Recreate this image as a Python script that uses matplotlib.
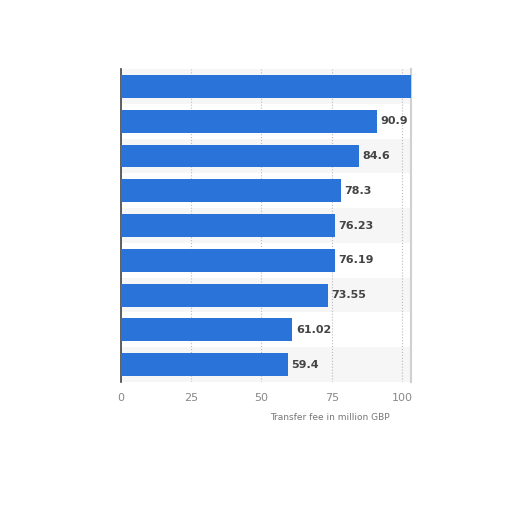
import matplotlib.pyplot as plt
import numpy as np

# values read top to bottom; first bar runs past the axis end
values = [103.5, 90.9, 84.6, 78.3, 76.23, 76.19, 73.55, 61.02, 59.4]
value_labels = ["", "90.9", "84.6", "78.3", "76.23", "76.19", "73.55", "61.02", "59.4"]
x_ticks = [0, 25, 50, 75, 100]

BAR_COLOR = "#2a73d9"

fig = plt.figure(figsize=(5.12, 5.12), dpi=100)
ax = fig.add_axes([0.236, 0.254, 0.567, 0.611])

n = len(values)
y = np.arange(n)

# alternating row stripes
for i in range(n):
    if i % 2 == 0:
        ax.axhspan(i - 0.5, i + 0.5, color="#f6f6f6", zorder=0, lw=0)

ax.barh(y, values, height=0.66, color=BAR_COLOR, zorder=3)

for i, (v, lab) in enumerate(zip(values, value_labels)):
    if lab:
        ax.text(v + 1.2, i, lab, va="center", ha="left", fontsize=8,
                fontweight="bold", color="#444444", zorder=4)

ax.set_xlim(0, 103.2)
ax.set_ylim(n - 0.5, -0.5)
ax.set_xticks(x_ticks)
ax.set_xticklabels([str(t) for t in x_ticks], fontsize=8, color="#888888")
ax.set_yticks([])
ax.tick_params(axis="x", length=0, pad=8)
ax.grid(True, axis="x", linestyle=":", color="#bbbbbb", linewidth=0.8, zorder=1)

for spine in ("top", "bottom"):
    ax.spines[spine].set_visible(False)
ax.spines["right"].set_color("#d0d0d0")
ax.spines["right"].set_linewidth(1.5)
ax.spines["left"].set_color("#444444")
ax.spines["left"].set_linewidth(1.2)

fig.text(0.762, 0.185, "Transfer fee in million GBP", fontsize=6.5,
         color="#777777", ha="right", va="center")

fig.savefig("out.png", dpi=100)
